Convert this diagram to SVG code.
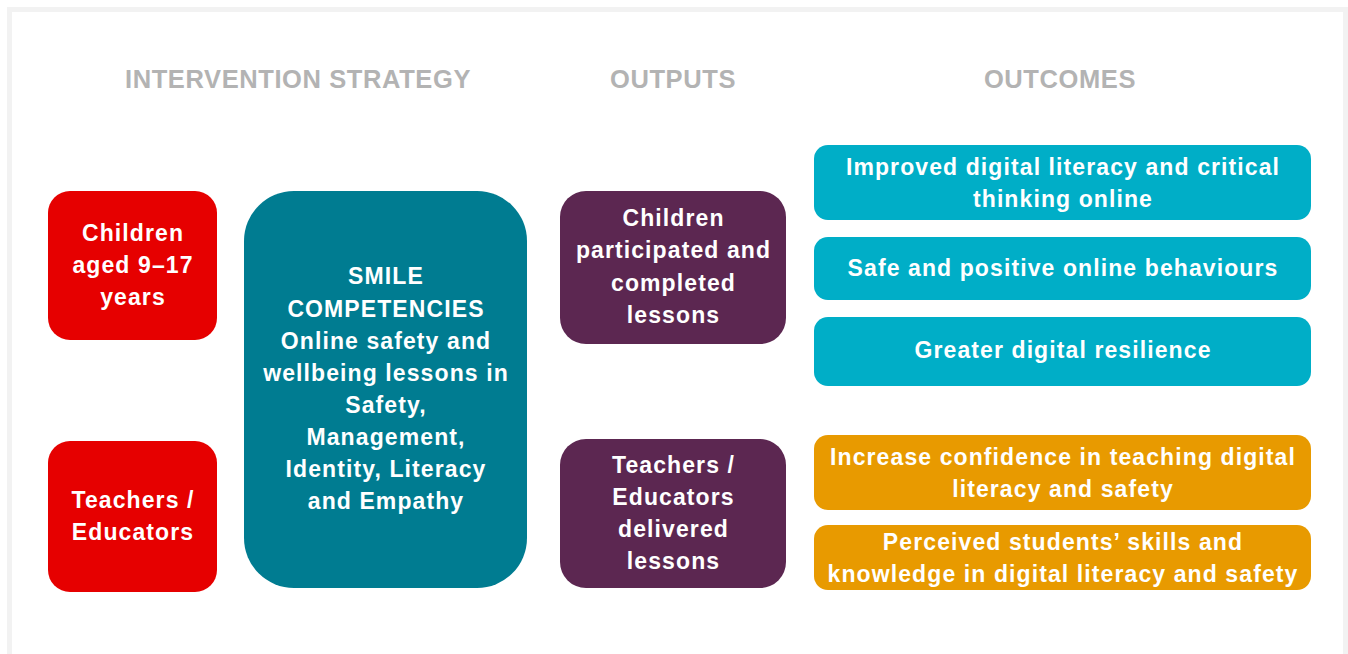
<svg xmlns="http://www.w3.org/2000/svg" width="1348" height="654" viewBox="0 0 1348 654">
  <style>
    .hdr { font-family: "Liberation Sans", Arial, sans-serif; font-weight: bold; font-size: 25.5px; letter-spacing: 0.6px; fill: #b3b3b3; text-anchor: middle; }
    .lbl { font-family: "Liberation Sans", Arial, sans-serif; font-weight: bold; font-size: 23px; letter-spacing: 1.1px; fill: #ffffff; text-anchor: middle; }
    .red { fill: #e60000; }
    .teal { fill: #007c91; }
    .plum { fill: #5c2751; }
    .cyan { fill: #00aec7; }
    .amber { fill: #e89a00; }
  </style>
  <rect x="0" y="0" width="1348" height="654" fill="#ffffff"/>
  <!-- page frame -->
  <path d="M9.5 660 V9.5 H1345.5 V660" fill="none" stroke="#f2f2f2" stroke-width="5"/>

  <!-- column headings -->
  <g id="headings">
    <text class="hdr" x="298" y="88">INTERVENTION STRATEGY</text>
    <text class="hdr" x="673" y="88">OUTPUTS</text>
    <text class="hdr" x="1060" y="88">OUTCOMES</text>
  </g>

  <g id="children">
    <rect class="red" x="48" y="191" width="169" height="149" rx="22"/>
    <text class="lbl"><tspan x="133" y="241">Children</tspan><tspan x="133" y="273">aged 9–17</tspan><tspan x="133" y="305">years</tspan></text>
  </g>

  <g id="teachers">
    <rect class="red" x="48" y="441" width="169" height="151" rx="22"/>
    <text class="lbl"><tspan x="133" y="508">Teachers /</tspan><tspan x="133" y="540">Educators</tspan></text>
  </g>

  <g id="smile">
    <rect class="teal" x="244" y="191" width="283" height="397" rx="50"/>
    <text class="lbl"><tspan x="386" y="284">SMILE</tspan><tspan x="386" y="317">COMPETENCIES</tspan><tspan x="386" y="349">Online safety and</tspan><tspan x="386" y="381">wellbeing lessons in</tspan><tspan x="386" y="413">Safety,</tspan><tspan x="386" y="445">Management,</tspan><tspan x="386" y="477">Identity, Literacy</tspan><tspan x="386" y="509">and Empathy</tspan></text>
  </g>

  <g id="output-children">
    <rect class="plum" x="560" y="191" width="226" height="153" rx="26"/>
    <text class="lbl"><tspan x="673.5" y="226">Children</tspan><tspan x="673.5" y="258">participated and</tspan><tspan x="673.5" y="291">completed</tspan><tspan x="673.5" y="323">lessons</tspan></text>
  </g>

  <g id="output-teachers">
    <rect class="plum" x="560" y="439" width="226" height="149" rx="26"/>
    <text class="lbl"><tspan x="673.5" y="473">Teachers /</tspan><tspan x="673.5" y="505">Educators</tspan><tspan x="673.5" y="537">delivered</tspan><tspan x="673.5" y="569">lessons</tspan></text>
  </g>

  <g id="outcome-literacy">
    <rect class="cyan" x="814" y="145" width="497" height="75" rx="14"/>
    <text class="lbl"><tspan x="1063" y="175">Improved digital literacy and critical</tspan><tspan x="1063" y="207">thinking online</tspan></text>
  </g>

  <g id="outcome-behaviours">
    <rect class="cyan" x="814" y="237" width="497" height="63" rx="14"/>
    <text class="lbl" x="1063" y="276">Safe and positive online behaviours</text>
  </g>

  <g id="outcome-resilience">
    <rect class="cyan" x="814" y="317" width="497" height="69" rx="14"/>
    <text class="lbl" x="1063" y="358">Greater digital resilience</text>
  </g>

  <g id="outcome-confidence">
    <rect class="amber" x="814" y="435" width="497" height="75" rx="14"/>
    <text class="lbl"><tspan x="1063" y="465">Increase confidence in teaching digital</tspan><tspan x="1063" y="497">literacy and safety</tspan></text>
  </g>

  <g id="outcome-perceived">
    <rect class="amber" x="814" y="525" width="497" height="65" rx="14"/>
    <text class="lbl"><tspan x="1063" y="550">Perceived students’ skills and</tspan><tspan x="1063" y="582">knowledge in digital literacy and safety</tspan></text>
  </g>

  <g id="connectors"/>
</svg>
